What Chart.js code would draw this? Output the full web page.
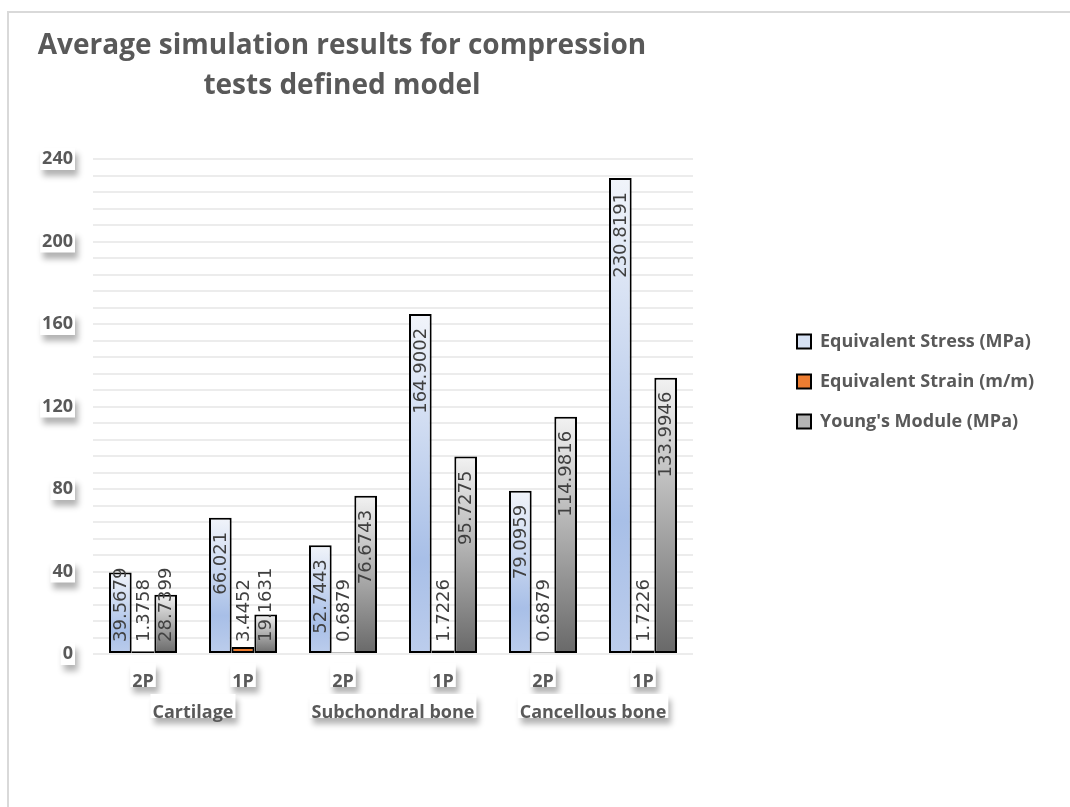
<!DOCTYPE html>
<html>
<head>
<meta charset="utf-8">
<title>Average simulation results for compression tests defined model</title>
<script src="https://cdn.jsdelivr.net/npm/chart.js@4/dist/chart.umd.min.js"></script>
<style>
  html, body { margin: 0; padding: 0; background: #ffffff; overflow: hidden; }
  #frame {
    position: absolute; left: 7px; top: 11px; width: 1100px; height: 850px;
    border-left: 2px solid #d9d9d9; border-top: 2px solid #d9d9d9;
  }
  #wrap { position: absolute; left: 0; top: 0; width: 1070px; height: 807px; }
</style>
</head>
<body>
<div id="frame"></div>
<div id="wrap"><canvas id="chart" width="1070" height="807"></canvas></div>
<script>
// Material groups and the test setup under each one
const groups = ['Cartilage', 'Subchondral bone', 'Cancellous bone'];
const tests = ['2P', '1P', '2P', '1P', '2P', '1P'];

// Series values, one per test column
const stressMPa = [39.5679, 66.021, 52.7443, 164.9002, 79.0959, 230.8191];
const strainMM = [1.3758, 3.4452, 0.6879, 1.7226, 0.6879, 1.7226];
const youngsMPa = [28.7399, 19.1631, 76.6743, 95.7275, 114.9816, 133.9946];

// Value axis: minor gridlines every 8, labels every 40
const yMin = 0;
const yMax = 240;
const yGridStep = 8;
const yLabelStep = 40;

const seriesNames = ['Equivalent Stress (MPa)', 'Equivalent Strain (m/m)', "Young's Module (MPa)"];
const titleLines = ['Average simulation results for compression', 'tests defined model'];

const TEXT = '#595959';
const LABEL_FONT = { family: '"Open Sans"', weight: 'bold', size: 18 };
const LEGEND_FONT = { family: '"Open Sans"', weight: 'bold', size: 18 };

// Vertical gradient spanning each bar from its top down to the zero line
function barGradient(stops, fallback) {
  return (ctx) => {
    const chart = ctx.chart;
    if (!chart.chartArea || ctx.type !== 'data') return fallback;
    const y = chart.scales.y;
    const top = y.getPixelForValue(ctx.raw);
    const bottom = y.getPixelForValue(0);
    if (!(bottom - top > 0.5)) return fallback;
    const g = chart.ctx.createLinearGradient(0, top, 0, bottom);
    stops.forEach(([o, c]) => g.addColorStop(o, c));
    return g;
  };
}

// Rotated value labels, written upward and tucked under each bar's top
const valueLabels = {
  id: 'valueLabels',
  afterDatasetsDraw(chart) {
    const ctx = chart.ctx;
    const base = chart.scales.y.getPixelForValue(0);
    ctx.save();
    ctx.font = '18px "DejaVu Sans"';
    ctx.fillStyle = '#404040';
    ctx.textBaseline = 'middle';
    ctx.textAlign = 'right';
    chart.data.datasets.forEach((ds, i) => {
      const meta = chart.getDatasetMeta(i);
      meta.data.forEach((bar, j) => {
        const text = String(ds.data[j]);
        const w = ctx.measureText(text).width;
        let end = bar.y + 14;
        if (end + w > base - 12) end = base - 12 - w;
        ctx.save();
        ctx.translate(bar.x, end);
        ctx.rotate(-Math.PI / 2);
        ctx.fillText(text, 0, 1);
        ctx.restore();
      });
    });
    ctx.restore();
  }
};

// White plates with a soft drop shadow behind the axis labels
const labelPlates = {
  id: 'labelPlates',
  beforeDraw(chart) {
    const ctx = chart.ctx;
    ctx.save();
    ctx.fillStyle = '#ffffff';
    ctx.shadowColor = 'rgba(0,0,0,0.30)';
    ctx.shadowBlur = 6;
    ctx.shadowOffsetX = 3;
    ctx.shadowOffsetY = 6;
    ctx.font = `bold ${LABEL_FONT.size}px ${LABEL_FONT.family}`;
    const ys = chart.scales.y;
    ys.ticks.forEach((t, i) => {
      if (!t.label) return;
      const w = ctx.measureText(t.label).width;
      const py = ys.getPixelForTick(i);
      const right = ys.right - ys.options.ticks.padding;
      ctx.fillRect(right - w - 2, py - 11, w + 4, 22);
    });
    ['x', 'x2'].forEach((id) => {
      const s = chart.scales[id];
      s.ticks.forEach((t, i) => {
        const w = ctx.measureText(t.label).width;
        const px = s.getPixelForTick(i);
        const top = s.top + s.options.ticks.padding;
        ctx.fillRect(px - w / 2 - 2, top, w + 4, LABEL_FONT.size + 6);
      });
    });
    ctx.restore();
  }
};

// Two-line chart heading
const heading = {
  id: 'heading',
  afterDraw(chart) {
    const ctx = chart.ctx;
    ctx.save();
    ctx.font = 'bold 28px "Open Sans"';
    ctx.fillStyle = TEXT;
    ctx.textAlign = 'center';
    ctx.textBaseline = 'alphabetic';
    ctx.fillText(titleLines[0], 342, 54);
    ctx.fillText(titleLines[1], 342, 94);
    ctx.restore();
  }
};

// Right-hand space: gap between plot and legend, then the legend itself
const legendPad = 22;
const legendBox = 14;
const measureCtx = document.createElement('canvas').getContext('2d');
measureCtx.font = `${LEGEND_FONT.weight} ${LEGEND_FONT.size}px ${LEGEND_FONT.family}`;
const legendTextW = Math.max(...seriesNames.map((n) => measureCtx.measureText(n).width));
const legendW = legendPad + legendBox + LEGEND_FONT.size / 2 + legendTextW + 10;
const plotRight = 693;
const legendLeft = 797 - legendPad;
const rightPad = Math.max(0, 1070 - legendLeft - legendW);

new Chart(document.getElementById('chart'), {
  type: 'bar',
  data: {
    labels: tests,
    datasets: [
      {
        label: seriesNames[0],
        data: stressMPa,
        backgroundColor: barGradient([[0, '#f1f4fa'], [0.72, '#a8bfe7'], [1, '#bccdec']], '#c9d8f0')
      },
      {
        label: seriesNames[1],
        data: strainMM,
        backgroundColor: '#ed7d31'
      },
      {
        label: seriesNames[2],
        data: youngsMPa,
        backgroundColor: barGradient([[0, '#f2f2f2'], [1, '#686868']], '#b0b0b0')
      }
    ]
  },
  options: {
    responsive: false,
    animation: false,
    devicePixelRatio: 1,
    datasets: {
      bar: {
        categoryPercentage: 0.68,
        barPercentage: 1.0,
        borderColor: '#000000',
        borderWidth: 2,
        borderSkipped: false
      }
    },
    layout: {
      padding: { top: 159, left: 33, right: rightPad, bottom: 83 }
    },
    scales: {
      x: {
        type: 'category',
        position: 'bottom',
        weight: 0,
        grid: { display: false },
        border: { display: false },
        ticks: { font: LABEL_FONT, color: TEXT, padding: 9, maxRotation: 0 },
        afterFit: (s) => { s.height = 34; }
      },
      x2: {
        type: 'category',
        position: 'bottom',
        weight: 1,
        labels: groups,
        offset: true,
        grid: { display: false },
        border: { display: false },
        ticks: { font: LABEL_FONT, color: TEXT, padding: 6, maxRotation: 0 },
        afterFit: (s) => { s.height = 36; }
      },
      y: {
        position: 'left',
        min: yMin,
        max: yMax,
        grid: { color: '#ececec', lineWidth: 2, drawTicks: false },
        border: { display: false },
        ticks: {
          stepSize: yGridStep,
          maxTicksLimit: 100,
          autoSkip: false,
          font: LABEL_FONT,
          color: TEXT,
          padding: 20,
          callback: (v) => (Math.round(v) % yLabelStep === 0 ? String(Math.round(v)) : '')
        },
        afterFit: (s) => { s.width = 60; }
      },
      gap: {
        type: 'linear',
        position: 'right',
        grid: { display: false },
        border: { display: false },
        ticks: { display: false },
        afterFit: (s) => { s.width = legendLeft - plotRight; }
      }
    },
    plugins: {
      title: { display: false },
      tooltip: { enabled: false },
      legend: {
        position: 'right',
        align: 'start',
        fullSize: false,
        maxWidth: 400,
        title: { display: true, text: '', font: { size: 12, lineHeight: 1.2 }, padding: { top: 137, bottom: 0 } },
        labels: {
          boxWidth: legendBox,
          boxHeight: legendBox,
          padding: legendPad,
          color: TEXT,
          font: LEGEND_FONT,
          generateLabels: (chart) => {
            const fills = ['#d6e1f3', '#ed7d31', '#b4b4b4'];
            return chart.data.datasets.map((ds, i) => ({
              text: ds.label,
              fillStyle: fills[i],
              strokeStyle: '#000000',
              lineWidth: 2,
              fontColor: TEXT,
              datasetIndex: i,
              hidden: false
            }));
          }
        }
      }
    }
  },
  plugins: [labelPlates, valueLabels, heading]
});
</script>
</body>
</html>
